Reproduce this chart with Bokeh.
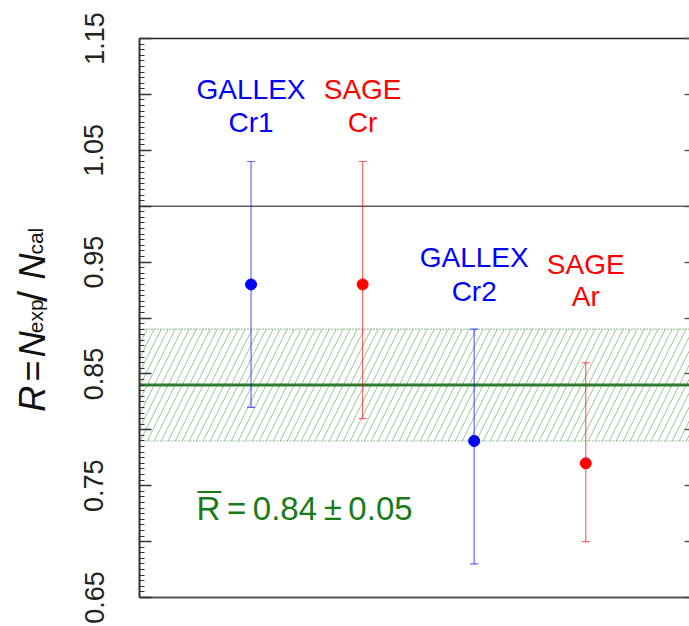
import numpy as np
from bokeh.plotting import figure
from bokeh.layouts import row
from bokeh.models import (ColumnDataSource, Whisker, TeeHead, Span, BoxAnnotation, Label,
                          LinearAxis, FixedTicker, CustomJSTickFormatter, Range1d)
from bokeh.core.properties import value
from bokeh.embed import file_html
from bokeh.resources import INLINE

# ---------------- data ----------------
experiments = ["GALLEX Cr1", "SAGE Cr", "GALLEX Cr2", "SAGE Ar"]
label_line1 = ["GALLEX", "SAGE", "GALLEX", "SAGE"]
label_line2 = ["Cr1", "Cr", "Cr2", "Ar"]
x_pos = [1, 2, 3, 4]
ratio = [0.93, 0.93, 0.79, 0.77]
ratio_upper = [1.04, 1.04, 0.89, 0.86]
ratio_lower = [0.82, 0.81, 0.68, 0.70]
colors = ["#0000ff", "#ff0000", "#0000ff", "#ff0000"]
mean_ratio = 0.84
mean_err = 0.05
reference_ratio = 1.0
y_major_ticks = [0.65, 0.70, 0.75, 0.80, 0.85, 0.90, 0.95, 1.00, 1.05, 1.10, 1.15]
y_labeled_ticks = [0.65, 0.75, 0.85, 0.95, 1.05, 1.15]
y_minor_ticks = [round(0.65 + 0.005 * i, 3) for i in range(101)]

# ---------------- layout helpers ----------------
W, H = 689, 626
W_LAB = 69                       # width of the side panel holding the y title
FL, FR, FT, FB = 139, 689, 38, 597
X_MAX = 4.93
Y_MIN, Y_MAX = 0.65, 1.15


def px_x(sx):
    return (sx - FL) / (FR - FL) * X_MAX


def px_y(sy):
    return Y_MAX - (sy - FT) / (FB - FT) * (Y_MAX - Y_MIN)


FONT = "Liberation Sans"
GREEN_TXT = "#1a7a1a"
GREEN_LINE = "#2e7d2e"
TEXT_SHIFT = 11   # observed baseline offset of rendered labels

p = figure(width=W - W_LAB, height=H, x_range=Range1d(0, X_MAX), y_range=Range1d(Y_MIN, Y_MAX),
           output_backend="svg", toolbar_location=None,
           x_axis_type=None, y_axis_type=None,
           min_border_left=FL - W_LAB, min_border_right=0, min_border_top=FT,
           min_border_bottom=H - FB)
p.outline_line_color = None
p.xgrid.visible = False
p.ygrid.visible = False

# left axis
yaxis = LinearAxis(
    ticker=FixedTicker(ticks=y_major_ticks, minor_ticks=y_minor_ticks),
    formatter=CustomJSTickFormatter(args=dict(labeled=y_labeled_ticks), code="""
        for (const v of labeled) { if (Math.abs(v - tick) < 1e-6) return v.toFixed(2); }
        return "";
    """),
    major_tick_in=12, major_tick_out=0, minor_tick_in=5, minor_tick_out=0,
    axis_line_color="#333333", axis_line_width=2,
    major_tick_line_color="#333333", major_tick_line_width=1.5,
    minor_tick_line_color="#333333", minor_tick_line_width=1,
    major_label_orientation="vertical", major_label_standoff=36,
    major_label_text_font=FONT, major_label_text_font_size="27px",
    major_label_text_color="#222222")
p.add_layout(yaxis, "left")

# right axis (ticks only)
raxis = LinearAxis(
    ticker=FixedTicker(ticks=y_major_ticks),
    formatter=CustomJSTickFormatter(code="return '';"),
    major_tick_in=5, major_tick_out=0, minor_tick_in=0, minor_tick_out=0,
    axis_line_color=None, major_tick_line_color="#555555", major_tick_line_width=1.5,
    major_label_text_font_size="0px", major_label_standoff=0)
p.add_layout(raxis, "right")

# top & bottom frame lines
for side, col, wid in (("above", "#222222", 1.5), ("below", "#555555", 2)):
    ax = LinearAxis(ticker=FixedTicker(ticks=[]), axis_line_color=col, axis_line_width=wid,
                    major_tick_in=0, major_tick_out=0, minor_tick_in=0, minor_tick_out=0,
                    major_label_text_font_size="0px", major_label_standoff=0)
    p.add_layout(ax, side)

# mean band
band = BoxAnnotation(bottom=mean_ratio - mean_err, top=mean_ratio + mean_err,
                     fill_color=None, fill_alpha=0, line_color=None,
                     hatch_pattern="/", hatch_color="#3c8c3c", hatch_alpha=0.5,
                     hatch_scale=14, hatch_weight=1, level="underlay")
p.add_layout(band)
for yv in (mean_ratio - mean_err, mean_ratio + mean_err):
    p.add_layout(Span(location=yv, dimension="width", line_color="#3c8c3c",
                      line_dash="1 2", line_width=1.2, level="underlay"))
p.add_layout(Span(location=mean_ratio, dimension="width", line_color=GREEN_LINE,
                  line_width=3, level="underlay"))
p.add_layout(Span(location=reference_ratio, dimension="width", line_color="#111111",
                  line_width=1, level="underlay"))

# error bars & points
for i in range(len(x_pos)):
    s = ColumnDataSource(dict(x=[x_pos[i]], upper=[ratio_upper[i]], lower=[ratio_lower[i]]))
    w = Whisker(source=s, base="x", upper="upper", lower="lower",
                line_color=colors[i], line_alpha=0.6, line_width=1.2,
                upper_head=TeeHead(size=8, line_color=colors[i], line_alpha=0.6, line_width=1.2),
                lower_head=TeeHead(size=8, line_color=colors[i], line_alpha=0.6, line_width=1.2))
    p.add_layout(w)

src = ColumnDataSource(dict(x=x_pos, y=ratio, color=colors))
p.scatter("x", "y", source=src, size=11, fill_color="color", line_color="color")

# experiment labels
line1_base = [100, 100, 268, 275]
line2_base = [133, 133, 302, 307]
for i in range(len(x_pos)):
    p.add_layout(Label(x=x_pos[i], y=px_y(line1_base[i] - TEXT_SHIFT), text=label_line1[i],
                       text_align="center", text_baseline="alphabetic",
                       text_font=FONT, text_font_size="28px", text_color=colors[i]))
    p.add_layout(Label(x=x_pos[i], y=px_y(line2_base[i] - TEXT_SHIFT), text=label_line2[i],
                       text_align="center", text_baseline="alphabetic",
                       text_font=FONT, text_font_size="28px", text_color=colors[i]))

# mean text
p.add_layout(Label(x=px_x(196), y=px_y(521 - 13), text="R\u2009=\u20090.84\u2009\u00b1\u20090.05",
                   text_align="left", text_baseline="alphabetic",
                   text_font=FONT, text_font_size="33px", text_color=GREEN_TXT))
p.add_layout(BoxAnnotation(left=px_x(197), right=px_x(221), top=px_y(490.5), bottom=px_y(492.5),
                           fill_color=GREEN_TXT, fill_alpha=1, line_color=None))

# ---------------- side panel with the rotated y title ----------------
q = figure(width=W_LAB, height=H, x_range=Range1d(0, W_LAB), y_range=Range1d(H, 0),
           output_backend="svg", toolbar_location=None, x_axis_type=None, y_axis_type=None,
           min_border_left=0, min_border_right=0, min_border_top=0, min_border_bottom=0)
q.outline_line_color = None
q.xgrid.visible = False
q.ygrid.visible = False

# (text, start y, style, size, baseline x) in page pixels
ylabel_parts = [
    ("R", 418, "italic", 36, 43),
    ("=", 384, "normal", 36, 43),
    ("N", 357, "italic", 36, 43),
    ("exp", 330, "normal", 21, 46),
    ("/", 295, "normal", 40, 43),
    ("N", 270, "italic", 36, 43),
    ("cal", 242, "normal", 21, 46),
]
for txt, sy, style, size, sx in ylabel_parts:
    q.text(x=[sx - TEXT_SHIFT], y=[sy], text=[txt], angle=np.pi / 2,
           text_align="left", text_baseline="alphabetic",
           text_font=value(FONT), text_font_style=style,
           text_font_size=f"{size}px", text_color="#111111")

layout = row(q, p, spacing=0)
open("out.html", "w").write(file_html(layout, INLINE))
